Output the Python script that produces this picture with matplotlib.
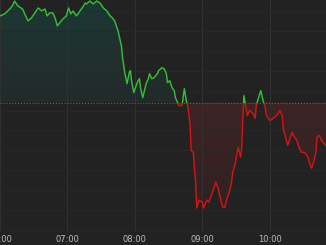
import numpy as np
import matplotlib
matplotlib.use("Agg")
import matplotlib.pyplot as plt
from matplotlib.patches import Rectangle

# ---- data ----
times = ["06:00","06:04","06:07","06:11","06:13","06:16","06:20","06:22","06:25","06:28",
         "06:31","06:34","06:37","06:40","06:42","06:44","06:47","06:49","06:51","06:53",
         "06:56","06:59","07:01","07:03","07:05","07:08","07:10","07:13","07:16","07:17",
         "07:20","07:23","07:26","07:29","07:32","07:35","07:38","07:40","07:42","07:45",
         "07:47","07:48","07:49","07:51","07:53","07:55","07:56","07:57","07:59","08:02",
         "08:04","08:05","08:07","08:10","08:12","08:13","08:15","08:17","08:20","08:21",
         "08:24","08:26","08:28","08:29","08:31","08:33","08:35","08:36","08:38","08:39",
         "08:42","08:43","08:44","08:45","08:46","08:47","08:49","08:50","08:52","08:53",
         "08:54","08:55","08:57","09:00","09:01","09:04","09:06","09:08","09:09","09:12",
         "09:14","09:16","09:18","09:20","09:22","09:24","09:26","09:27","09:29","09:31",
         "09:32","09:34","09:35","09:36","09:37","09:38","09:40","09:42","09:45","09:47",
         "09:48","09:50","09:52","09:54","09:56","09:57","10:00","10:03","10:06","10:09",
         "10:11","10:12","10:14","10:16","10:18","10:20","10:21","10:24","10:26","10:28",
         "10:31","10:34","10:36","10:37","10:39","10:41","10:42","10:44","10:46","10:48",
         "10:50"]

prices = [25.47,25.49,25.52,25.57,25.62,25.57,25.54,25.49,25.42,25.45,
          25.50,25.55,25.52,25.54,25.47,25.50,25.50,25.45,25.37,25.40,
          25.44,25.47,25.55,25.49,25.52,25.47,25.50,25.55,25.60,25.59,
          25.62,25.59,25.62,25.60,25.55,25.52,25.47,25.45,25.42,25.32,
          25.22,25.17,25.05,24.90,24.79,24.90,24.92,24.82,24.70,24.80,
          24.84,24.75,24.65,24.79,24.84,24.89,24.84,24.85,24.89,24.92,
          24.95,24.94,24.89,24.80,24.82,24.75,24.72,24.65,24.60,24.57,
          24.57,24.66,24.74,24.67,24.60,24.56,24.40,24.12,24.10,23.94,
          23.80,23.54,23.62,23.60,23.54,23.62,23.60,23.67,23.70,23.80,
          23.74,23.64,23.55,23.55,23.64,23.70,23.80,23.90,23.97,24.10,
          24.15,24.05,24.14,24.44,24.67,24.60,24.47,24.52,24.49,24.44,
          24.57,24.65,24.72,24.62,24.55,24.47,24.42,24.44,24.47,24.52,
          24.47,24.34,24.25,24.17,24.24,24.30,24.27,24.22,24.15,24.10,
          24.10,24.05,23.97,23.94,24.00,24.10,24.25,24.27,24.22,24.19,
          24.17]

prev_close = 24.60
tick_labels = ["06:00", "07:00", "08:00", "09:00", "10:00"]

# ---- helpers ----
def to_min(s):
    h, m = s.split(":")
    return (int(h) - 6) * 60 + int(m)

t = np.array([to_min(s) for s in times], dtype=float)
v = np.array(prices)
ticks = [to_min(s) for s in tick_labels]

BG = "#222222"
GREEN = "#36bd36"
RED = "#d01515"

xmin, xmax = 0, 290
ymin, ymax = 23.30, 25.63

fig = plt.figure(figsize=(3.26, 2.45), dpi=100, facecolor=BG)
ax = fig.add_axes([0, 13 / 245, 1, 232 / 245])
ax.set_facecolor(BG)
ax.set_xlim(xmin, xmax)
ax.set_ylim(ymin, ymax)

def gradient_fill(y_lo, y_hi, c_top, c_bot, clip_poly):
    n = 256
    frac = np.linspace(0, 1, n)[:, None]
    ct = np.array(c_top)
    cb = np.array(c_bot)
    img = ct[None, None, :] * (1 - frac[:, :, None]) + cb[None, None, :] * frac[:, :, None]
    img = np.repeat(img, 2, axis=1)
    im = ax.imshow(img, extent=[xmin, xmax, y_lo, y_hi], aspect="auto",
                   origin="upper", zorder=1, interpolation="bilinear")
    path = clip_poly.get_paths()[0]
    im.set_clip_path(path, transform=ax.transData)

# area above previous close
poly_up = ax.fill_between(t, np.maximum(v, prev_close), prev_close,
                          facecolor="none", edgecolor="none")
gradient_fill(prev_close, ymax, (0.11, 0.22, 0.205), (0.14, 0.165, 0.165), poly_up)
# area below previous close
poly_dn = ax.fill_between(t, np.minimum(v, prev_close), prev_close,
                          facecolor="none", edgecolor="none")
gradient_fill(ymin, prev_close, (0.245, 0.14, 0.14), (0.18, 0.125, 0.125), poly_dn)

# line coloured by side of previous close
lg, = ax.plot(t, v, color=GREEN, lw=1.05, zorder=4, solid_joinstyle="round")
lg.set_clip_path(Rectangle((xmin - 50, prev_close), xmax - xmin + 100, 10,
                           transform=ax.transData))
lr, = ax.plot(t, v, color=RED, lw=1.05, zorder=4, solid_joinstyle="round")
lr.set_clip_path(Rectangle((xmin - 50, prev_close - 10), xmax - xmin + 100, 10,
                           transform=ax.transData))

# previous close dotted line
ax.axhline(prev_close, color="#707070", lw=0.7, ls=(0, (1, 2)), zorder=3)

# grid
ax.set_xticks(ticks)
ax.set_xticklabels(tick_labels)
ax.set_yticks(np.arange(23.32, 25.6, 0.20))
ax.set_axisbelow(False)
ax.grid(axis="x", color="#313131", lw=0.8, zorder=2)
ax.grid(axis="y", color="#292929", lw=0.6, zorder=2)
ax.tick_params(axis="x", length=0, labelsize=6, colors="#bdbdbd", pad=2.5)
ax.tick_params(axis="y", left=False, labelleft=False)
for s in ax.spines.values():
    s.set_visible(False)

fig.savefig("out.png", dpi=100, facecolor=BG)
